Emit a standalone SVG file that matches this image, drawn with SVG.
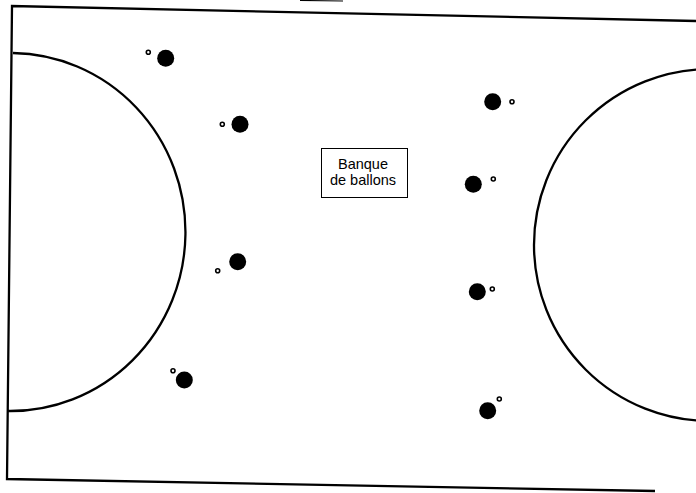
<svg xmlns="http://www.w3.org/2000/svg" width="696" height="493" viewBox="0 0 696 493">
<style>
.line{fill:none;stroke:#000;stroke-width:2.3}
.big{fill:#000}
.small{fill:#fff;stroke:#000;stroke-width:1.6}
.lbl{font-family:"Liberation Sans",Arial,sans-serif;font-size:14.5px;fill:#000;text-anchor:middle}
</style>
<rect width="696" height="493" fill="#fff"/>
<g id="court">
<path class="line" d="M 696,21 L 12,6 L 7,479 L 655,491"/>
<path class="line" d="M 13,53 A 175,179 0 0 1 8,411"/>
<circle class="line" cx="710" cy="245" r="176"/>
<line x1="300" y1="0.5" x2="343" y2="1" stroke="#000" stroke-width="1.2"/>
</g>
<g id="players">
<g id="p1"><circle class="big" cx="165.7" cy="58.3" r="8.5"/><circle class="small" cx="148.3" cy="52.3" r="2"/></g>
<g id="p2"><circle class="big" cx="240" cy="124.3" r="8.5"/><circle class="small" cx="222.3" cy="124.3" r="2"/></g>
<g id="p3"><circle class="big" cx="237.7" cy="261.7" r="8.5"/><circle class="small" cx="217.7" cy="270.7" r="2"/></g>
<g id="p4"><circle class="big" cx="184.3" cy="380" r="8.5"/><circle class="small" cx="173" cy="370.7" r="2"/></g>
<g id="p5"><circle class="big" cx="492.7" cy="101.7" r="8.5"/><circle class="small" cx="512" cy="101.7" r="2"/></g>
<g id="p6"><circle class="big" cx="473.3" cy="184.3" r="8.5"/><circle class="small" cx="493.3" cy="179" r="2"/></g>
<g id="p7"><circle class="big" cx="477.3" cy="291.7" r="8.5"/><circle class="small" cx="492.3" cy="289" r="2"/></g>
<g id="p8"><circle class="big" cx="487.7" cy="410.7" r="8.5"/><circle class="small" cx="499.3" cy="399" r="2"/></g>
</g>
<g id="banque">
<rect x="321.5" y="148.5" width="86" height="49" fill="#fff" stroke="#000" stroke-width="1"/>
<text class="lbl" x="363" y="169">Banque</text>
<text class="lbl" x="363" y="185">de ballons</text>
</g>
<g id="connectors"/>
</svg>
